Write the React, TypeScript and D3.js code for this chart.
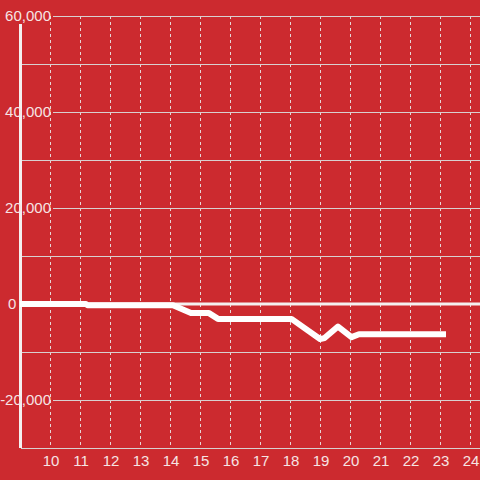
import { useRef, useEffect } from "react";
import * as d3 from "d3";

// hours (decimal) and values
const hours = [9, 11.2, 11.25, 14.1, 14.7, 15.3, 15.6, 18.05, 19.0, 19.15, 19.6, 20.05, 20.3, 23.2];
const values = [0, 0, -250, -250, -1900, -1900, -3100, -3100, -7300, -7100, -4700, -6900, -6300, -6300];

const xTicks = [10, 11, 12, 13, 14, 15, 16, 17, 18, 19, 20, 21, 22, 23, 24];
const yGrid = [60000, 50000, 40000, 30000, 20000, 10000, 0, -10000, -20000, -30000];
const yLabels = [60000, 40000, 20000, 0, -20000];

const W = 480;
const H = 480;

const Chart = () => {
  const svgRef = useRef<SVGSVGElement | null>(null);

  useEffect(() => {
    if (!svgRef.current) return;
    const svg = d3.select(svgRef.current);
    svg.selectAll("*").remove();

    const bg = "#cc2a2f";
    const textColor = "#f6e4e4";
    const font = "'Liberation Sans', Arial, sans-serif";

    svg.append("rect").attr("width", W).attr("height", H).attr("fill", bg);

    const x = d3.scaleLinear().domain([9, 24 + 1 / 3]).range([20, 480]);
    const y = d3.scaleLinear().domain([-30000, 60000]).range([448, 16]);

    // vertical dashed grid
    svg
      .append("g")
      .selectAll("line")
      .data(xTicks)
      .enter()
      .append("line")
      .attr("x1", (d) => x(d) + 0.5)
      .attr("x2", (d) => x(d) + 0.5)
      .attr("y1", y(60000))
      .attr("y2", y(-30000))
      .attr("stroke", "#e6d6d6")
      .attr("stroke-width", 1)
      .attr("stroke-dasharray", "3,3");

    // horizontal grid
    svg
      .append("g")
      .selectAll("line")
      .data(yGrid.filter((d) => d !== 0))
      .enter()
      .append("line")
      .attr("x1", (d) => (yLabels.includes(d) ? 53 : 21))
      .attr("x2", W)
      .attr("y1", (d) => y(d) + 0.5)
      .attr("y2", (d) => y(d) + 0.5)
      .attr("stroke", "#d8d0d0")
      .attr("stroke-width", 1);

    // zero line
    svg
      .append("line")
      .attr("x1", 19)
      .attr("x2", W)
      .attr("y1", y(0))
      .attr("y2", y(0))
      .attr("stroke", "#f4f0f0")
      .attr("stroke-width", 3);

    // y axis line
    svg
      .append("line")
      .attr("x1", 20.5)
      .attr("x2", 20.5)
      .attr("y1", y(60000) + 8)
      .attr("y2", y(-30000))
      .attr("stroke", "#f4f0f0")
      .attr("stroke-width", 3);

    // y labels
    const fmt = d3.format(",");
    svg
      .append("g")
      .selectAll("text")
      .data(yLabels)
      .enter()
      .append("text")
      .attr("x", (d) => (d === 0 ? 8 : 51))
      .attr("y", (d) => y(d))
      .attr("dy", "0.36em")
      .attr("text-anchor", (d) => (d === 0 ? "start" : "end"))
      .attr("font-family", font)
      .attr("font-size", 15)
      .attr("fill", textColor)
      .text((d) => fmt(d).replace("−", "-"));

    // x labels
    svg
      .append("g")
      .selectAll("text")
      .data(xTicks)
      .enter()
      .append("text")
      .attr("x", (d) => x(d) + 1)
      .attr("y", 466)
      .attr("text-anchor", "middle")
      .attr("font-family", font)
      .attr("font-size", 15)
      .attr("fill", textColor)
      .text((d) => String(d));

    // data line
    const line = d3
      .line<number>()
      .x((d, i) => x(hours[i]))
      .y((d) => y(d));

    svg
      .append("path")
      .datum(values)
      .attr("d", line)
      .attr("fill", "none")
      .attr("stroke", "#ffffff")
      .attr("stroke-width", 6)
      .attr("stroke-linejoin", "round");
  }, []);

  return <svg ref={svgRef} width={W} height={H} style={{ display: "block" }}></svg>;
};

export default function App() {
  return (
    <div style={{ position: "fixed", left: 0, top: 0 }}>
      <Chart />
    </div>
  );
}
